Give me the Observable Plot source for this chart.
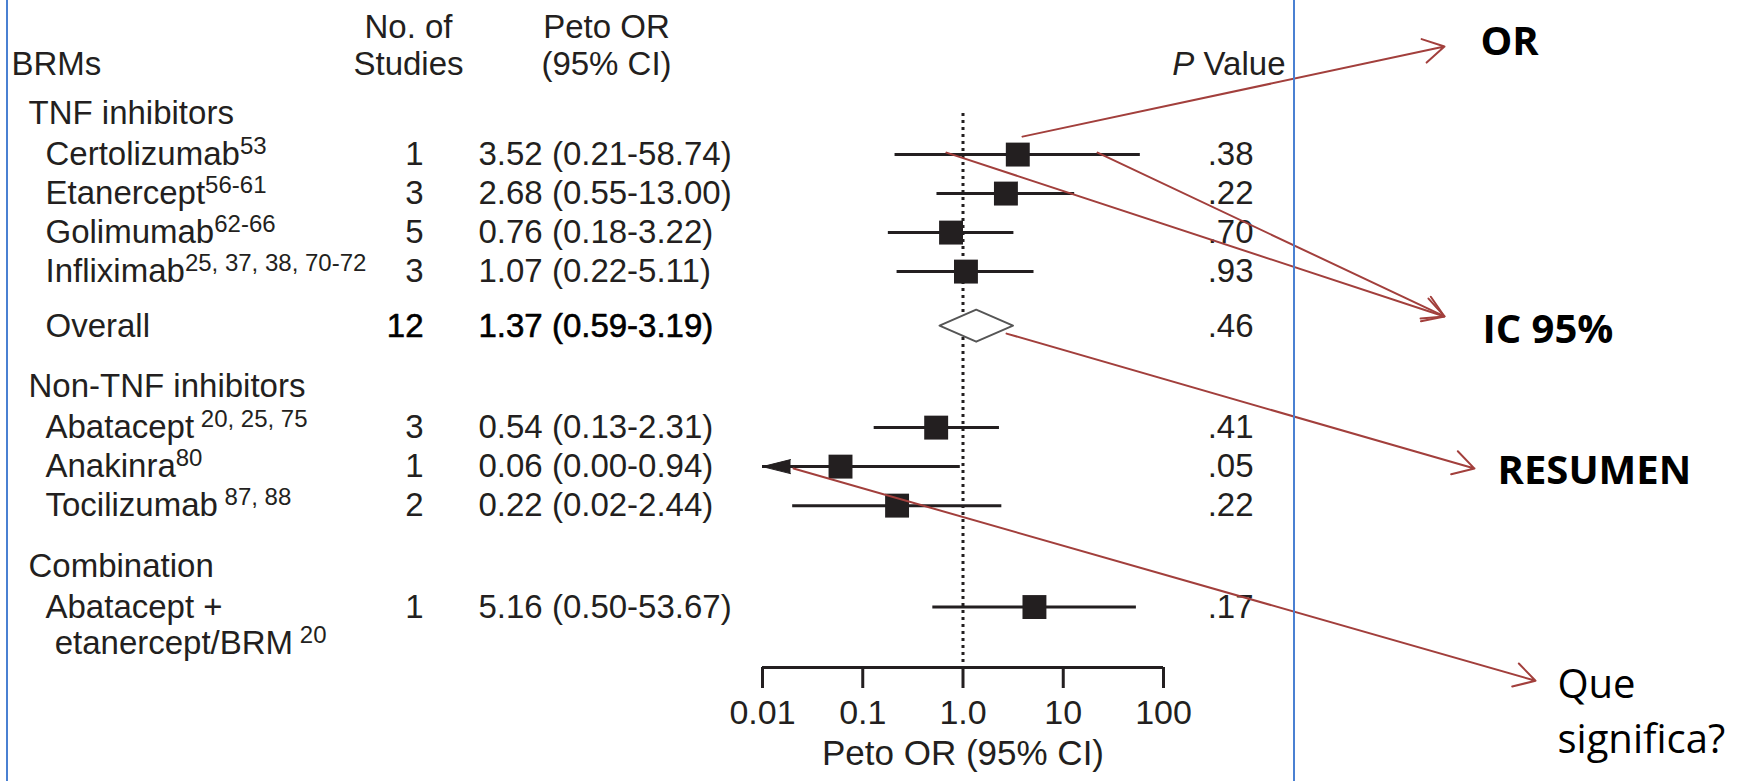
<!DOCTYPE html>
<html>
<head>
<meta charset="utf-8">
<script src="https://cdn.jsdelivr.net/npm/d3@7"></script>
<script src="https://cdn.jsdelivr.net/npm/@observablehq/plot@0.6"></script>
<style>
  html, body { margin: 0; padding: 0; background: #fff; }
  #wrap { position: relative; width: 1746px; height: 781px; overflow: hidden; background: #fff; }
  .vline { position: absolute; top: 0; bottom: 0; width: 2px; background: #4a80d2; }
</style>
</head>
<body>
<div id="wrap"></div>
<script>
// ---------------- DATA ----------------
const groupNames = ["TNF inhibitors", "Non-TNF inhibitors", "Combination"];
const drugNames = ["Certolizumab", "Etanercept", "Golimumab", "Infliximab",
                   "Abatacept", "Anakinra", "Tocilizumab", "Abatacept +\n\u00a0etanercept/BRM"];
const drugGroup = [0, 0, 0, 0, 1, 1, 1, 2];
const drugRefs = ["53", "56-61", "62-66", "25, 37, 38, 70-72", "\u00a020, 25, 75", "80", "\u00a087, 88", "\u00a020"];
const studies = [1, 3, 5, 3, 3, 1, 2, 1];
const petoOR = [3.52, 2.68, 0.76, 1.07, 0.54, 0.06, 0.22, 5.16];
const ciLow  = [0.21, 0.55, 0.18, 0.22, 0.13, 0.00, 0.02, 0.50];
const ciHigh = [58.74, 13.00, 3.22, 5.11, 2.31, 0.94, 2.44, 53.67];
const pValues = [".38", ".22", ".70", ".93", ".41", ".05", ".22", ".17"];

const overallLabel = "Overall";
const overallGroup = 0;
const overallStudies = 12;
const overallOR = 1.37, overallLow = 0.59, overallHigh = 3.19;
const overallP = ".46";

const headerTop = ["", "No. of", "Peto OR", ""];
const headerBottom = ["BRMs", "Studies", "(95% CI)", "P Value"];

const xTicks = [0.01, 0.1, 1, 10, 100];
const xTickLabels = ["0.01", "0.1", "1.0", "10", "100"];
const xTitle = "Peto OR (95% CI)";
const nullEffect = 1;

// annotation labels (x in OR units, y in row units)
const noteText = ["OR", "IC 95%", "RESUMEN", "Que\nsignifica?"];
const noteBold = [true, true, true, false];
const noteX = [145000, 152000, 214800, 851000];
const noteRow = [-2.22, 5.14, 8.76, 13.99];
// annotation arrows
const arrowFromX = [3.92, 0.684, 22.0, 2.72, 0.0204];
const arrowFromRow = [0.59, 1.0, 1.0, 5.64, 9.1];
const arrowToX = [63500, 63500, 63500, 126500, 514000];
const arrowToRow = [-1.72, 5.2, 5.2, 9.1, 14.54];

// ---------------- LAYOUT (row positions) ----------------
const rows = [];
let pos = 0;
groupNames.forEach((g, gi) => {
  rows.push({kind: "group", label: g, pos});
  let p = pos + 1.05;
  drugNames.forEach((d, i) => {
    if (drugGroup[i] !== gi) return;
    rows.push({kind: "drug", label: d, refs: drugRefs[i], n: studies[i], or: petoOR[i],
               lo: ciLow[i], hi: ciHigh[i], p: pValues[i], pos: p});
    p += 1;
  });
  let last = p - 1;
  if (overallGroup === gi) {
    last += 1.4;
    rows.push({kind: "overall", label: overallLabel, refs: "", n: overallStudies, or: overallOR,
               lo: overallLow, hi: overallHigh, p: overallP, pos: last});
  }
  pos = last + 1.55;
});

const xMin = xTicks[0], xMax = xTicks[xTicks.length - 1];
const yTop = -2.9, yAxis = 14.2;
const firstPos = rows[0].pos;
const groupRows = rows.filter(r => r.kind === "group");
const drugRows = rows.filter(r => r.kind === "drug");
const overallRows = rows.filter(r => r.kind === "overall");
const nameRows = rows.filter(r => r.kind !== "group");
const headTopRow = firstPos - 2.22, headBotRow = firstPos - 1.25;

const diamond = overallRows.flatMap(o => [
  {x: o.lo, y1: o.pos, y2: o.pos},
  {x: o.or, y1: o.pos - 0.41, y2: o.pos + 0.41},
  {x: o.hi, y1: o.pos, y2: o.pos}
]);

const notes = noteText.map((t, i) => ({t, bold: noteBold[i], x: noteX[i], y: noteRow[i]}));
const arrows = arrowFromX.map((x, i) => ({x1: x, y1: arrowFromRow[i], x2: arrowToX[i], y2: arrowToRow[i]}));

const ink = "#231f20";
const red = "#a23f3c";
const headerCols = [
  {dx: -751, anchor: "start"},
  {dx: -354, anchor: "middle"},
  {dx: -156, anchor: "middle"},
  {dx: 523, anchor: "end"}
];
const headerMarks = headerCols.flatMap((c, i) => [
  Plot.text([headerTop[i]], {y: () => headTopRow, text: d => d, frameAnchor: "left", dx: c.dx, textAnchor: c.anchor, fill: ink}),
  Plot.text([headerBottom[i]], {y: () => headBotRow, text: d => d, frameAnchor: "left", dx: c.dx, textAnchor: c.anchor, fill: ink, ariaDescription: "header-bottom"})
]);

const fmt = v => v.toFixed(2);
const boldish = {fill: "#000", stroke: "#000", strokeWidth: 0.6};

const svg = Plot.plot({
  width: 1746,
  height: 781,
  marginLeft: 762,
  marginRight: 583,
  marginTop: 0,
  marginBottom: 114,
  style: {fontFamily: "'Liberation Sans', Arial, Helvetica, sans-serif", fontSize: "33px", background: "#fff", color: ink},
  x: {type: "log", domain: [xMin, xMax]},
  y: {domain: [yTop, yAxis], range: [0, 667], axis: null},
  marks: [
    ...headerMarks,
    Plot.text(groupRows, {y: "pos", text: "label", frameAnchor: "left", dx: -734, textAnchor: "start", fill: ink}),
    Plot.text(nameRows, {y: "pos", text: "label", frameAnchor: "left", dx: -717, textAnchor: "start",
                         lineAnchor: "top", lineHeight: 1.1, dy: -15.2, fill: ink, ariaDescription: "drug-names"}),
    Plot.text(drugRows, {y: "pos", text: d => String(d.n), frameAnchor: "left", dx: -339, textAnchor: "end", fill: ink}),
    Plot.text(overallRows, {y: "pos", text: d => String(d.n), frameAnchor: "left", dx: -339, textAnchor: "end", ...boldish}),
    Plot.text(drugRows, {y: "pos", text: d => `${fmt(d.or)} (${fmt(d.lo)}-${fmt(d.hi)})`, frameAnchor: "left", dx: -284, textAnchor: "start", fill: ink}),
    Plot.text(overallRows, {y: "pos", text: d => `${fmt(d.or)} (${fmt(d.lo)}-${fmt(d.hi)})`, frameAnchor: "left", dx: -284, textAnchor: "start", ...boldish}),
    Plot.text([...drugRows, ...overallRows], {y: "pos", text: "p", frameAnchor: "left", dx: 491, textAnchor: "end", fill: ink}),

    // reference line at OR = 1
    Plot.ruleX([nullEffect], {y1: firstPos, y2: yAxis, stroke: ink, strokeWidth: 3, strokeDasharray: "3,4"}),
    // CIs
    Plot.ruleY(drugRows, {y: "pos", x1: d => Math.max(d.lo, xMin), x2: "hi", stroke: ink, strokeWidth: 3}),
    Plot.vector(drugRows.filter(d => d.lo < xMin), {x: () => xMin, y: "pos", length: 28, rotate: -90, anchor: "end",
                shape: "spike", r: 7, fill: ink, stroke: ink, strokeWidth: 1}),
    Plot.dot(drugRows, {x: "or", y: "pos", symbol: "square", r: 13.5, fill: ink, stroke: "none"}),
    // overall diamond
    Plot.areaY(diamond, {x: "x", y1: "y1", y2: "y2", fill: "#fff", stroke: "#555", strokeWidth: 2}),

    // axis
    Plot.ruleY([yAxis], {stroke: ink, strokeWidth: 3}),
    Plot.axisX({ticks: xTicks, tickFormat: d => xTickLabels[xTicks.indexOf(d)], tickSize: 21, tickPadding: 11,
                strokeWidth: 3, fontSize: 34, label: null, color: ink}),
    Plot.text([{x: nullEffect, t: xTitle}], {x: "x", text: "t", frameAnchor: "bottom", dy: 97, fontSize: 35, fill: ink}),

    // annotations
    Plot.arrow(arrows, {x1: "x1", y1: "y1", x2: "x2", y2: "y2", stroke: red, strokeWidth: 2, headLength: 18, headAngle: 60}),
    Plot.text(notes.filter(n => n.bold), {x: "x", y: "y", text: "t", textAnchor: "start", lineAnchor: "top",
              fontFamily: "'Open Sans', sans-serif", fontWeight: "bold", fontSize: 40, fill: "#000"}),
    Plot.text(notes.filter(n => !n.bold), {x: "x", y: "y", text: "t", textAnchor: "start", lineAnchor: "top", lineHeight: 1.37,
              fontFamily: "'Open Sans', sans-serif", fontSize: 40, fill: "#000"})
  ]
});

// superscript references after drug names
const ns = "http://www.w3.org/2000/svg";
function groupTexts(desc) {
  const g = Array.from(svg.querySelectorAll("g")).find(e => e.getAttribute("aria-description") === desc);
  return g ? Array.from(g.querySelectorAll("text")) : [];
}
groupTexts("drug-names").forEach((el, k) => {
  const sup = nameRows[k] && nameRows[k].refs;
  if (!sup) return;
  const spans = el.querySelectorAll("tspan");
  const host = spans.length ? spans[spans.length - 1] : el;
  const ts = document.createElementNS(ns, "tspan");
  ts.setAttribute("dy", "-11");
  ts.setAttribute("font-size", "24");
  ts.textContent = sup;
  host.appendChild(ts);
});
// italic P in "P Value"
Array.from(svg.querySelectorAll("text")).forEach(el => {
  if (el.textContent === "P Value") {
    el.textContent = "";
    const it = document.createElementNS(ns, "tspan");
    it.setAttribute("font-style", "italic");
    it.textContent = "P";
    el.appendChild(it);
    el.appendChild(document.createTextNode(" Value"));
  }
});

const wrap = document.getElementById("wrap");
wrap.appendChild(svg);
[6, 1293].forEach(left => {
  const d = document.createElement("div");
  d.className = "vline";
  d.style.left = left + "px";
  wrap.appendChild(d);
});
</script>
</body>
</html>
